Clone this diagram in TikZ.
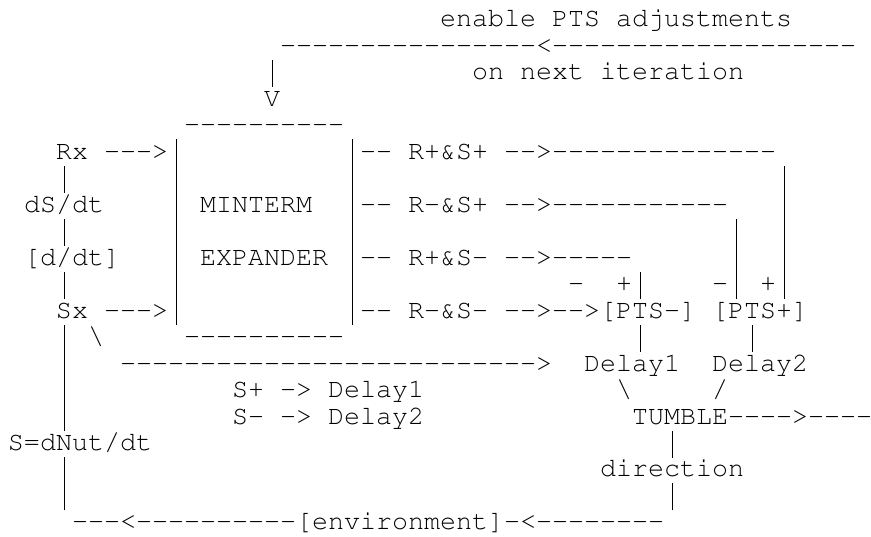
\documentclass[tikz,border=0pt]{standalone}
\usepackage[T1]{fontenc}
\usepackage{courier}
\usetikzlibrary{positioning}
% monospaced cell grid: 16pt per column, 26.47pt per row
\newcommand\asciifont{\fontsize{26.667pt}{26.5pt}\selectfont\ttfamily\frenchspacing}
% a run of n separate hyphens (no en-dash ligature)
\ExplSyntaxOn
\cs_new:Npn \dsh #1 { \prg_replicate:nn {#1} { -{} } }
\ExplSyntaxOff
% vertical bar filling the whole cell height, so stacked bars join up
\newcommand\vb{\makebox[16pt]{\rule[-7pt]{0.8pt}{27pt}}}
\tikzset{ch/.style={anchor=base west, inner sep=0pt, outer sep=0pt, font=\asciifont, text=black}}
\begin{document}
\begin{tikzpicture}[x=16pt, y=-26.47pt]
\useasboundingbox (0pt,0pt) rectangle (871pt,-537pt);
\fill[white] (0pt,0pt) rectangle (871pt,-537pt);
\begin{scope}[shift={(8pt,-27pt)}]
% feedback path over the top
\node[ch] (enable)  at (27,0) {enable PTS adjustments};
\node[ch] (fbline)  at (17,1) {\dsh{16}<\dsh{19}};
\node[ch] (fbbar)   at (16,2) {\vb};
\node[ch] (iter)    at (29,2) {on next iteration};
\node[ch] (fbtip)   at (16,3) {V};
% minterm expander box
\node[ch] (boxtop)  at (11,4) {\dsh{10}};
\node[ch] (rx)      at (3,5)  {Rx \dsh{3}>\vb};
\node[ch] (outA)    at (21,5) {\vb\dsh{2} R+\&S+ \dsh{2}>\dsh{14}};
\node[ch] (l6a)     at (3,6)  {\vb};
\node[ch] (l6b)     at (10,6) {\vb};
\node[ch] (l6c)     at (21,6) {\vb};
\node[ch] (l6d)     at (48,6) {\vb};
\node[ch] (dsdt)    at (1,7)  {dS/dt};
\node[ch] (l7b)     at (10,7) {\vb};
\node[ch] (minterm) at (12,7) {MINTERM};
\node[ch] (outB)    at (21,7) {\vb\dsh{2} R-\&S+ \dsh{2}>\dsh{11}};
\node[ch] (l7d)     at (48,7) {\vb};
\node[ch] (l8a)     at (3,8)  {\vb};
\node[ch] (l8b)     at (10,8) {\vb};
\node[ch] (l8c)     at (21,8) {\vb};
\node[ch] (l8d)     at (45,8) {\vb};
\node[ch] (l8e)     at (48,8) {\vb};
\node[ch] (ddt)     at (1,9)  {[d/dt]};
\node[ch] (l9b)     at (10,9) {\vb};
\node[ch] (expander) at (12,9) {EXPANDER};
\node[ch] (outC)    at (21,9) {\vb\dsh{2} R+\&S- \dsh{2}>\dsh{5}};
\node[ch] (l9d)     at (45,9) {\vb};
\node[ch] (l9e)     at (48,9) {\vb};
\node[ch] (l10a)    at (3,10) {\vb};
\node[ch] (l10b)    at (10,10) {\vb};
\node[ch] (l10c)    at (21,10) {\vb};
\node[ch] (mneg)    at (35,10) {-};
\node[ch] (mpos)    at (38,10) {+\vb};
\node[ch] (pneg)    at (44,10) {-\vb};
\node[ch] (ppos)    at (47,10) {+\vb};
\node[ch] (sx)      at (3,11) {Sx \dsh{3}>\vb};
\node[ch] (outD)    at (21,11) {\vb\dsh{2} R-\&S- \dsh{2}>\dsh{2}>[PTS-] [PTS+]};
\node[ch] (l12a)    at (3,12) {\vb};
\node[ch] (bslash)  at (5,12) {\textbackslash};
\node[ch] (boxbot)  at (11,12) {\dsh{10}};
\node[ch] (l12d)    at (39,12) {\vb};
\node[ch] (l12e)    at (46,12) {\vb};
% delays and tumble
\node[ch] (l13a)    at (3,13) {\vb};
\node[ch] (bypass)  at (7,13) {\dsh{26}>};
\node[ch] (delay1)  at (36,13) {Delay1};
\node[ch] (delay2)  at (44,13) {Delay2};
\node[ch] (l14a)    at (3,14) {\vb};
\node[ch] (legA)    at (14,14) {S+ -> Delay1};
\node[ch] (dl1)     at (38,14) {\textbackslash};
\node[ch] (dl2)     at (44,14) {/};
\node[ch] (l15a)    at (3,15) {\vb};
\node[ch] (legB)    at (14,15) {S- -> Delay2};
\node[ch] (tumble)  at (39,15) {TUMBLE\dsh{4}>\dsh{4}};
\node[ch] (nut)     at (0,16) {S=dNut/dt};
\node[ch] (l16b)    at (41,16) {\vb};
\node[ch] (l17a)    at (3,17) {\vb};
\node[ch] (direction) at (37,17) {direction};
\node[ch] (l18a)    at (3,18) {\vb};
\node[ch] (l18b)    at (41,18) {\vb};
\node[ch] (env)     at (4,19) {\dsh{3}<\dsh{10}[environment]-<\dsh{8}};
\end{scope}
\end{tikzpicture}
\end{document}
